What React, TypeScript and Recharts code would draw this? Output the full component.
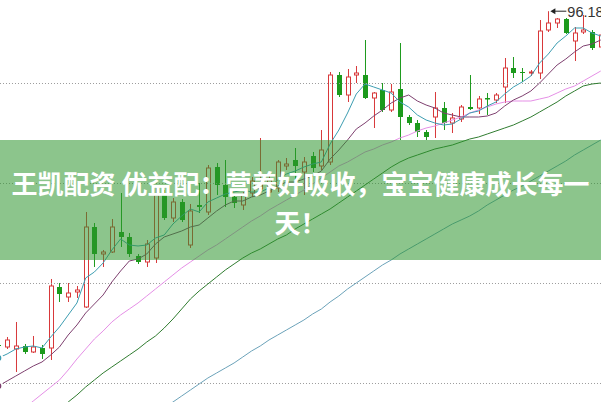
import React from 'react';
import { ComposedChart, Bar, Line, XAxis, YAxis, ReferenceLine, ReferenceDot } from 'recharts';

const open = [62.80, 62.60, 62.40, 62.70, 62.10, 62.50, 62.50, 68.60, 67.60, 68.10, 66.60, 74.60, 71.90, 72.10, 74.10, 73.60, 71.70, 71.10, 71.50, 78.00, 75.50, 77.10, 72.80, 76.80, 76.10, 80.60, 78.80, 77.60, 76.80, 78.00, 78.40, 78.10, 78.50, 80.70, 81.30, 80.10, 81.70, 80.70, 81.10, 89.80, 87.80, 89.80, 89.80, 87.50, 88.30, 86.30, 88.40, 85.60, 85.00, 84.10, 85.60, 86.50, 85.00, 85.40, 86.60, 86.50, 87.50, 87.30, 88.60, 90.50, 90.10, 90.00, 90.00, 94.30, 95.00, 95.40, 93.20, 94.10, 94.10, 92.60];
const high = [63.00, 63.60, 65.10, 62.90, 63.70, 62.80, 69.40, 69.00, 69.00, 68.70, 76.10, 75.00, 72.30, 75.40, 78.00, 74.00, 71.90, 73.30, 78.50, 78.30, 77.50, 77.40, 76.90, 79.00, 80.80, 81.00, 81.30, 77.80, 78.10, 79.60, 83.50, 79.80, 81.30, 81.50, 82.50, 81.60, 82.10, 84.30, 90.10, 90.10, 90.40, 90.70, 93.30, 88.10, 89.00, 88.90, 93.00, 85.80, 85.30, 84.30, 88.10, 87.10, 86.00, 86.80, 89.80, 87.70, 88.00, 88.00, 91.50, 91.60, 90.50, 90.30, 95.30, 96.18, 95.50, 95.50, 94.60, 95.80, 94.30, 94.10];
const low = [62.60, 62.40, 60.10, 61.90, 62.00, 61.40, 61.30, 67.10, 67.10, 67.50, 66.50, 70.60, 70.60, 72.00, 72.60, 71.60, 70.90, 70.60, 71.00, 75.30, 75.10, 75.10, 72.50, 76.00, 75.80, 77.80, 76.60, 76.50, 76.30, 77.60, 78.00, 77.60, 78.10, 80.30, 79.30, 77.80, 80.10, 80.30, 80.80, 87.60, 87.10, 89.00, 87.40, 84.50, 86.10, 86.10, 83.30, 84.80, 83.60, 83.30, 83.50, 84.30, 84.00, 85.10, 86.30, 85.90, 85.80, 87.00, 87.00, 89.50, 89.10, 89.70, 89.40, 94.10, 94.50, 93.90, 91.20, 93.90, 92.30, 92.40];
const close = [62.77, 63.30, 62.70, 62.10, 62.60, 61.90, 68.70, 67.90, 68.00, 68.30, 74.60, 71.90, 72.10, 74.60, 73.60, 71.90, 71.10, 72.90, 77.80, 75.50, 77.10, 75.30, 76.20, 76.60, 80.50, 78.80, 77.60, 77.00, 77.80, 79.20, 79.00, 79.30, 81.10, 80.90, 80.70, 81.10, 80.50, 82.30, 89.80, 87.80, 89.60, 90.00, 87.50, 88.00, 86.30, 88.10, 85.60, 85.00, 84.10, 83.60, 86.50, 85.00, 85.50, 86.60, 86.40, 87.40, 87.35, 87.80, 90.50, 90.00, 90.00, 90.10, 94.20, 95.00, 95.40, 94.00, 94.00, 94.30, 92.50, 93.80];

const ma5 = [61.5, 61.9, 62.4, 62.6, 62.7, 62.5, 63.6, 64.6, 65.8, 67.0, 69.5, 70.1, 71.0, 72.3, 73.4, 72.8, 72.7, 72.8, 73.5, 73.8, 74.9, 75.7, 76.4, 76.1, 77.1, 77.5, 77.9, 78.1, 78.3, 78.1, 78.1, 78.5, 79.3, 79.9, 80.2, 80.6, 80.9, 81.1, 82.9, 84.3, 86.0, 87.9, 88.9, 88.6, 88.3, 88.0, 87.1, 86.6, 85.8, 85.3, 85.0, 84.8, 84.9, 85.4, 86.0, 86.2, 86.7, 87.1, 87.9, 88.6, 89.1, 89.7, 91.0, 91.9, 93.0, 93.7, 94.5, 94.5, 94.0, 93.7];
const ma10 = [58.7, 59.2, 59.7, 60.2, 60.7, 61.1, 61.8, 62.6, 63.8, 64.8, 66.0, 66.9, 67.8, 69.1, 70.2, 71.2, 71.4, 71.9, 72.9, 73.6, 73.9, 74.2, 74.6, 74.8, 75.5, 76.2, 76.8, 77.2, 77.2, 77.6, 77.8, 78.2, 78.7, 79.1, 79.1, 79.4, 79.7, 80.2, 81.4, 82.3, 83.3, 84.4, 85.0, 85.7, 86.3, 87.0, 87.5, 87.8, 87.2, 86.8, 86.5, 86.0, 85.8, 85.6, 85.6, 85.6, 85.7, 86.0, 86.7, 87.3, 87.7, 88.2, 89.0, 89.9, 90.8, 91.4, 92.1, 92.7, 92.9, 93.3];
const ma20 = [54.5, 55.1, 55.8, 56.5, 57.2, 57.9, 58.6, 59.3, 60.3, 61.4, 62.4, 63.4, 64.2, 65.1, 65.8, 66.4, 67.0, 67.7, 68.4, 69.1, 69.8, 70.5, 71.1, 71.7, 72.3, 72.8, 73.4, 74.0, 74.6, 75.2, 75.7, 76.3, 76.8, 77.3, 77.8, 78.3, 78.9, 79.5, 80.1, 80.7, 81.1, 81.6, 82.1, 82.4, 82.8, 83.1, 83.5, 83.8, 84.2, 84.5, 84.7, 85.0, 85.3, 85.6, 86.0, 86.3, 86.6, 86.9, 87.1, 87.2, 87.2, 87.2, 87.4, 87.6, 88.0, 88.4, 88.7, 89.2, 89.7, 90.2];
const ma60 = [null, null, null, null, null, null, null, 56.4, 57.1, 57.8, 58.6, 59.3, 60.0, 60.6, 61.2, 61.8, 62.4, 63.1, 63.7, 64.5, 65.4, 66.4, 67.4, 68.2, 68.9, 69.6, 70.3, 70.9, 71.5, 72.0, 72.4, 72.9, 73.4, 73.8, 74.4, 74.9, 75.4, 75.9, 76.4, 77.0, 77.6, 78.2, 78.8, 79.4, 80.0, 80.6, 81.1, 81.5, 81.8, 82.1, 82.4, 82.6, 82.8, 83.1, 83.4, 83.6, 83.9, 84.2, 84.5, 84.8, 85.2, 85.6, 86.1, 86.6, 87.1, 87.7, 88.2, 88.7, 88.9, 89.0];
const ma120 = [null, null, null, null, null, null, null, null, null, null, null, null, null, null, null, null, null, null, null, 56.5, 57.1, 57.7, 58.3, 58.9, 59.5, 60.0, 60.5, 61.0, 61.6, 62.2, 62.7, 63.3, 63.8, 64.3, 64.8, 65.3, 65.9, 66.4, 67.1, 67.7, 68.4, 69.0, 69.6, 70.2, 70.8, 71.3, 71.9, 72.4, 72.9, 73.4, 73.9, 74.4, 74.9, 75.3, 75.7, 76.2, 76.8, 77.3, 77.8, 78.3, 78.7, 79.2, 79.7, 80.2, 80.7, 81.2, 81.8, 82.3, 82.8, 83.3];

const days = open.map((_, i) => `K${i + 1}`);
const gridValues = [88.95, 78.95, 68.95, 58.95];
const peakDay = 'K64';
const peakValue = 96.18;
const bannerLine1 = '王凯配资 优益配：营养好吸收，宝宝健康成长每一';
const bannerLine2 = '天！';

const RED = '#d8383a';
const GREEN = '#1c9a1c';

const rows = days.map((d, i) => ({
  day: d,
  open: open[i],
  high: high[i],
  low: low[i],
  close: close[i],
  range: [low[i], high[i]],
  ma5: ma5[i],
  ma10: ma10[i],
  ma20: ma20[i],
  ma60: ma60[i],
  ma120: ma120[i],
}));

const Candle = (props: any) => {
  const { x, y, width, height, payload } = props;
  if (!payload) return null;
  const { open: o, close: c, high: h, low: l } = payload;
  const up = c >= o;
  const color = up ? RED : GREEN;
  const ratio = h - l > 0 ? height / (h - l) : 0;
  const yOf = (v: number) => y + (h - v) * ratio;
  const cx0 = Math.round(x + width / 2);
  const wx = cx0 + 0.5;
  const top = yOf(Math.max(o, c));
  const bot = yOf(Math.min(o, c));
  const bh = Math.max(bot - top, 1);
  return (
    <g>
      <line x1={wx} x2={wx} y1={yOf(h)} y2={yOf(l)} stroke={color} strokeWidth={1} />
      {up ? (
        <rect x={cx0 - 1.5} y={top} width={4} height={bh} fill="#ffffff" stroke={color} strokeWidth={1} />
      ) : (
        <rect x={cx0 - 2} y={top} width={5} height={bh} fill={color} stroke="none" />
      )}
    </g>
  );
};

const PeakLabel = (props: any) => {
  const { cx, cy } = props;
  const ax = cx + 2;
  return (
    <g>
      <path d={`M${ax} ${cy} L${ax + 5} ${cy - 3} L${ax + 5} ${cy + 3} Z`} fill="#222" />
      <line x1={ax + 4} x2={ax + 16} y1={cy} y2={cy} stroke="#222" strokeWidth={1} />
      <text x={ax + 17} y={cy + 5.5} fontSize={14.5} fill="#333" fontFamily="'Liberation Sans', Arial, sans-serif">
        {peakValue.toFixed(2)}
      </text>
    </g>
  );
};

export default function App() {
  return (
    <div style={{ position: 'absolute', left: 0, top: 0, width: 601, height: 402, overflow: 'hidden', background: '#ffffff' }}>
      <div style={{ position: 'absolute', left: -6.4, top: 0 }}>
        <ComposedChart width={611.1} height={402} data={rows} margin={{ top: 0, right: 0, bottom: 0, left: 0 }}>
          <XAxis dataKey="day" hide />
          <YAxis hide domain={[57.1, 97.3]} allowDataOverflow />
          {gridValues.map((v) => (
            <ReferenceLine key={v} y={v} stroke="#9c9c9c" strokeDasharray="1 2" strokeWidth={1} />
          ))}
          <Bar dataKey="range" shape={Candle} isAnimationActive={false} />
          <Line type="linear" dataKey="ma120" stroke="#6aa2b9" strokeWidth={1} dot={false} isAnimationActive={false} />
          <Line type="linear" dataKey="ma60" stroke="#2f7b2f" strokeWidth={1} dot={false} isAnimationActive={false} />
          <Line type="linear" dataKey="ma20" stroke="#e58fe6" strokeWidth={1} dot={false} isAnimationActive={false} />
          <Line type="linear" dataKey="ma10" stroke="#7d3f6e" strokeWidth={1} dot={false} isAnimationActive={false} />
          <Line type="linear" dataKey="ma5" stroke="#3c9db1" strokeWidth={1} dot={false} isAnimationActive={false} />
          <ReferenceDot x={peakDay} y={peakValue} r={0} shape={PeakLabel} />
        </ComposedChart>
      </div>
      <div
        style={{
          position: 'absolute',
          left: 0,
          top: 140,
          width: 601,
          height: 120,
          background: 'rgba(46,150,46,0.55)',
          color: '#ffffff',
          fontFamily: "'Noto Sans CJK SC', 'Noto Sans', sans-serif",
          fontWeight: 700,
          fontSize: 26,
          lineHeight: '39px',
          textAlign: 'center',
          boxSizing: 'border-box',
          paddingTop: 22.5,
          whiteSpace: 'nowrap',
          pointerEvents: 'none',
        }}
      >
        <div>{bannerLine1}</div>
        <div>{bannerLine2}</div>
      </div>
    </div>
  );
}
